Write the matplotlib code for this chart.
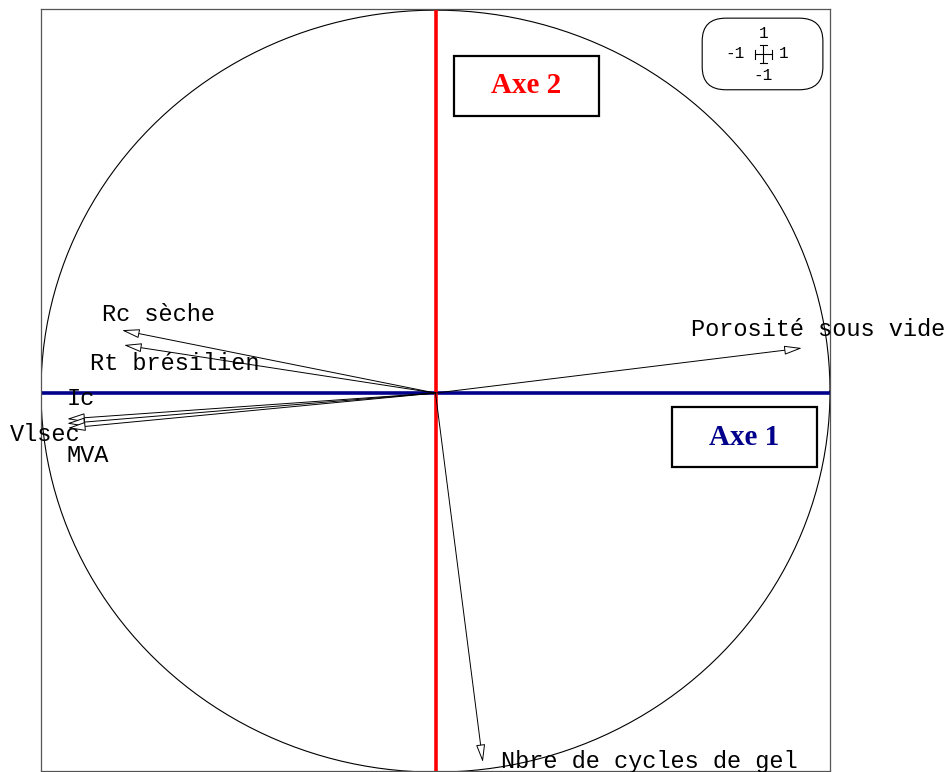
import numpy as np
import matplotlib
matplotlib.use("Agg")
import matplotlib.pyplot as plt
from matplotlib.patches import Rectangle, FancyBboxPatch

# variables du cercle des correlations (axe 1, axe 2)
labels = ["Rc sèche", "Rt brésilien", "Ic", "Vlsec", "MVA",
          "Porosité sous vide", "Nbre de cycles de gel"]
axe1 = [-0.795, -0.790, -0.934, -0.934, -0.932, 0.929, 0.120]
axe2 = [0.165, 0.126, -0.068, -0.080, -0.092, 0.118, -0.969]

# ou poser les noms
lab_x = [-0.703, -0.660, -0.899, -0.990, -0.881, 0.970, 0.541]
lab_y = [0.205, 0.077, -0.013, -0.108, -0.165, 0.168, -0.966]

fig = plt.figure(figsize=(9.52, 7.72), dpi=100)
ax = fig.add_axes([41/952, 1 - 771/772, 789/952, 762/772])
ax.set_xlim(-1, 1)
ax.set_ylim(-0.992, 1.008)
ax.set_xticks([])
ax.set_yticks([])
for s in ax.spines.values():
    s.set_color("#555555")
    s.set_linewidth(0.9)

# cercle
t = np.linspace(0, 2*np.pi, 400)
ax.plot(np.cos(t), np.sin(t) + 0.005, color="black", lw=0.8)

# axes
ax.axhline(0, color="#00008b", lw=2.6)
ax.axvline(0, color="red", lw=2.6)

mono = "Liberation Mono"
for i in range(len(labels)):
    ax.annotate("", xy=(axe1[i], axe2[i]), xytext=(0, 0),
                arrowprops=dict(arrowstyle="-|>,head_length=1.1,head_width=0.28",
                                fc="white", ec="black", lw=0.7,
                                shrinkA=0, shrinkB=0, mutation_scale=10))
    ax.text(lab_x[i], lab_y[i], labels[i], family=mono, fontsize=17,
            ha="center", va="center", clip_on=False)

# boites des axes
ax.add_patch(Rectangle((0.5234, 0.8596), 0.1838, 0.0787, transform=ax.transAxes,
                       fill=False, ec="black", lw=1.6))
ax.text(0.615, 0.899, "Axe 2", transform=ax.transAxes, color="red",
        family="Liberation Serif", weight="bold", fontsize=21,
        ha="center", va="center")
ax.add_patch(Rectangle((0.7997, 0.399), 0.1838, 0.0787, transform=ax.transAxes,
                       fill=False, ec="black", lw=1.6))
ax.text(0.8916, 0.438, "Axe 1", transform=ax.transAxes, color="#00008b",
        family="Liberation Serif", weight="bold", fontsize=21,
        ha="center", va="center")

# petite echelle en haut a droite
ax.add_patch(FancyBboxPatch((0.838, 0.894), 0.153, 0.094, transform=ax.transAxes,
                            boxstyle="round,pad=0,rounding_size=0.03",
                            fill=False, ec="black", lw=0.8))
cx, cy = 0.9155, 0.9408
dx, dy = 0.0105, 0.0118
ax.plot([cx - dx, cx + dx], [cy, cy], color="black", lw=0.8, transform=ax.transAxes)
ax.plot([cx, cx], [cy - dy, cy + dy], color="black", lw=0.8, transform=ax.transAxes)
ex, ey = 0.005, 0.006
for sx in (-1, 1):
    ax.plot([cx + sx*dx]*2, [cy - ey, cy + ey], color="black", lw=0.8, transform=ax.transAxes)
for sy in (-1, 1):
    ax.plot([cx - ex*0.9, cx + ex*0.9], [cy + sy*dy]*2, color="black", lw=0.8, transform=ax.transAxes)
kw = dict(transform=ax.transAxes, family=mono, fontsize=11.5, ha="center", va="center")
ax.text(cx, 0.968, "1", **kw)
ax.text(cx, 0.913, "-1", **kw)
ax.text(0.880, 0.941, "-1", **kw)
ax.text(0.941, 0.941, "1", **kw)

fig.savefig("out.png", dpi=100)
